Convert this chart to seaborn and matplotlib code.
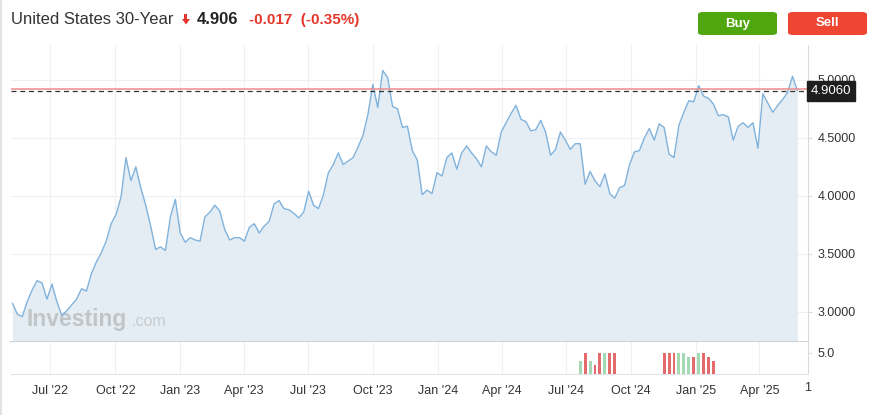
import seaborn as sns
import matplotlib.pyplot as plt
from matplotlib.patches import FancyBboxPatch, Polygon
from matplotlib.lines import Line2D
import pandas as pd

# weekly closes, United States 30-year yield
start_week = "2022-05-08"
yields = [
    3.075, 2.98, 2.96, 3.09, 3.19, 3.27, 3.25, 3.11, 3.24, 3.09,
    2.97, 3.01, 3.06, 3.11, 3.20, 3.18, 3.33, 3.43, 3.51, 3.61,
    3.76, 3.84, 3.99, 4.33, 4.13, 4.25, 4.07, 3.92, 3.74, 3.54,
    3.56, 3.53, 3.82, 3.97, 3.68, 3.60, 3.64, 3.62, 3.61, 3.82,
    3.86, 3.92, 3.87, 3.71, 3.62, 3.64, 3.64, 3.61, 3.73, 3.76,
    3.68, 3.74, 3.78, 3.93, 3.96, 3.89, 3.88, 3.85, 3.81, 3.86,
    4.04, 3.92, 3.89, 4.01, 4.20, 4.27, 4.37, 4.27, 4.30, 4.33,
    4.42, 4.52, 4.70, 4.96, 4.76, 5.08, 5.02, 4.77, 4.75, 4.59,
    4.60, 4.39, 4.31, 4.01, 4.05, 4.02, 4.20, 4.17, 4.33, 4.37,
    4.23, 4.37, 4.43, 4.37, 4.32, 4.25, 4.43, 4.38, 4.35, 4.55,
    4.63, 4.71, 4.78, 4.66, 4.64, 4.56, 4.57, 4.65, 4.55, 4.35,
    4.40, 4.55, 4.48, 4.40, 4.45, 4.45, 4.10, 4.21, 4.13, 4.08,
    4.19, 4.02, 3.98, 4.07, 4.09, 4.27, 4.38, 4.39, 4.50, 4.58,
    4.48, 4.62, 4.59, 4.36, 4.33, 4.61, 4.72, 4.82, 4.81, 4.95,
    4.86, 4.84, 4.79, 4.69, 4.70, 4.68, 4.48, 4.60, 4.63, 4.59,
    4.63, 4.41, 4.88, 4.80, 4.72, 4.78, 4.83, 4.89, 5.03, 4.906,
]
last_price = 4.906
prev_close = 4.923

vol_weeks = [
    "2024-07-21", "2024-07-28", "2024-08-04", "2024-08-11", "2024-08-18",
    "2024-08-25", "2024-09-01", "2024-09-08",
    "2024-11-17", "2024-11-24", "2024-12-01", "2024-12-08", "2024-12-15",
    "2024-12-22", "2024-12-29", "2025-01-05", "2025-01-12", "2025-01-19",
    "2025-01-26",
]
vol_values = [3, 5, 3, 2, 5, 5, 5, 5, 5, 5, 5, 5, 5, 4, 4, 5, 5, 4, 3]
vol_dir = ["up", "down", "up", "down", "down", "up", "down", "down",
           "down", "down", "down", "up", "up", "up", "down", "up", "down",
           "down", "down"]

quarter_ticks = ["2022-07-01", "2022-10-01", "2023-01-01", "2023-04-01",
                 "2023-07-01", "2023-10-01", "2024-01-01", "2024-04-01",
                 "2024-07-01", "2024-10-01", "2025-01-01", "2025-04-01"]
quarter_labels = ["Jul '22", "Oct '22", "Jan '23", "Apr '23", "Jul '23",
                  "Oct '23", "Jan '24", "Apr '24", "Jul '24", "Oct '24",
                  "Jan '25", "Apr '25"]
price_ticks = [3.0, 3.5, 4.0, 4.5, 5.0]

df = pd.DataFrame({"date": pd.date_range(start_week, periods=len(yields), freq="7D"),
                   "yield": yields})
vol = pd.DataFrame({"date": pd.to_datetime(vol_weeks), "vol": vol_values, "dir": vol_dir})

sns.set_style("white")
plt.rcParams["font.family"] = ["Liberation Sans", "DejaVu Sans"]

W, H = 879, 415
fig = plt.figure(figsize=(W / 100, H / 100), dpi=100)

def fx(px):
    return px / W

def fy(py):
    return 1 - py / H

ax = fig.add_axes([fx(11), fy(342), fx(808) - fx(11), fy(45) - fy(342)])
axv = fig.add_axes([fx(11), fy(374), fx(808) - fx(11), fy(342) - fy(374)], sharex=ax)

xmin, xmax = pd.Timestamp("2022-05-06"), pd.Timestamp("2025-06-09")
grid_c = "#eef0f3"
qt = pd.to_datetime(quarter_ticks)

# price area
ax.fill_between(df["date"], df["yield"], 2.0, color="#e4edf4", lw=0, zorder=1)
sns.lineplot(data=df, x="date", y="yield", ax=ax, color="#80b2dc", lw=1.0, zorder=3)
ax.axhline(prev_close, color="#ef8d8d", lw=1.1, zorder=4)
ax.axhline(last_price, color="#333333", lw=0.9, ls=(0, (4, 3)), zorder=4)

ax.set_xlim(xmin, xmax)
ax.set_ylim(2.741, 5.30)
ax.set_xticks(qt)
ax.set_yticks(price_ticks)
ax.grid(True, color=grid_c, lw=0.8)
ax.set_axisbelow(True)
ax.set_xlabel("")
ax.set_ylabel("")
ax.yaxis.tick_right()
ax.set_yticklabels([f"{v:.4f}" for v in price_ticks])
ax.tick_params(axis="y", length=3, color="#d8dbe0", pad=4, labelsize=9, labelcolor="#333333")
ax.tick_params(axis="x", length=0, labelbottom=False)
for s in ["top", "left"]:
    ax.spines[s].set_visible(False)
ax.spines["right"].set_color("#d8dbe0")
ax.spines["bottom"].set_color("#c6cacf")
ax.spines["bottom"].set_linewidth(1.2)

# watermark
ax.text(0.02, 0.055, "Investing", transform=ax.transAxes, fontsize=16.5, fontweight="bold",
        color="#bfc1c3", alpha=0.9, zorder=2, va="baseline")
ax.text(0.151, 0.055, ".com", transform=ax.transAxes, fontsize=11.5, color="#c6c8ca",
        alpha=0.9, zorder=2, va="baseline")

# last price tag
ax.annotate(f"{last_price:.4f}", xy=(1.0, last_price), xycoords=("axes fraction", "data"),
            xytext=(2, 0), textcoords="offset points", va="center", ha="left",
            fontsize=9.5, color="white",
            bbox=dict(boxstyle="square,pad=0.3", fc="#1e1e1e", ec="#1e1e1e"), zorder=6,
            annotation_clip=False)

# volume panel
up_c, dn_c = "#a3d9b3", "#e36b6b"
axv.bar(vol["date"], vol["vol"], width=4.2, lw=0,
        color=[up_c if d == "up" else dn_c for d in vol["dir"]], zorder=3)
axv.set_ylim(0, 7.48)
axv.set_yticks([5])
axv.set_yticklabels(["5.0"])
axv.yaxis.tick_right()
axv.tick_params(axis="y", length=3, color="#d8dbe0", pad=4, labelsize=9, labelcolor="#333333")
axv.set_xticks(qt)
axv.set_xticklabels(quarter_labels)
axv.tick_params(axis="x", length=5, color="#e6e8eb", pad=3, labelsize=9, labelcolor="#333333")
axv.grid(True, axis="x", color=grid_c, lw=0.8)
axv.set_axisbelow(True)
for s in ["top", "left"]:
    axv.spines[s].set_visible(False)
axv.spines["right"].set_color("#d8dbe0")
axv.spines["bottom"].set_color("#e1e4e8")
axv.set_xlim(xmin, xmax)
axv.set_xlabel("")
fig.text(fx(808), fy(388), "1", ha="center", va="center", fontsize=9, color="#333333")

# header
fig.text(fx(11), fy(20), "United States 30-Year", fontsize=12, color="#333333", va="center")
arrow = [(182, 19), (190, 19), (186, 24.5)]
fig.patches.append(Polygon([(fx(a), fy(b)) for a, b in arrow], closed=True,
                           transform=fig.transFigure, fc="#e5372b", ec="none"))
fig.patches.append(Polygon([(fx(184.5), fy(14)), (fx(187.5), fy(14)), (fx(187.5), fy(19.5)),
                            (fx(184.5), fy(19.5))], closed=True,
                           transform=fig.transFigure, fc="#e5372b", ec="none"))
fig.text(fx(197), fy(20), "4.906", fontsize=12, fontweight="bold", color="#232526", va="center")
fig.text(fx(249), fy(20), "-0.017  (-0.35%)", fontsize=11, fontweight="bold", color="#e5372b",
         va="center")

for x0, label, c in [(698, "Buy", "#4fa60e"), (788, "Sell", "#ef4634")]:
    fig.patches.append(FancyBboxPatch((fx(x0), fy(35)), fx(79), fy(12) - fy(35),
                                      boxstyle="round,pad=0,rounding_size=0.006",
                                      transform=fig.transFigure, fc=c, ec="none"))
    fig.text(fx(x0 + 39.5), fy(23.5), label, fontsize=9.5, fontweight="bold", color="white",
             ha="center", va="center")

fig.lines.append(Line2D([fx(1.5), fx(1.5)], [0, 1], transform=fig.transFigure,
                        color="#e2e2e2", lw=1.5))

fig.savefig("out.png", dpi=100)
